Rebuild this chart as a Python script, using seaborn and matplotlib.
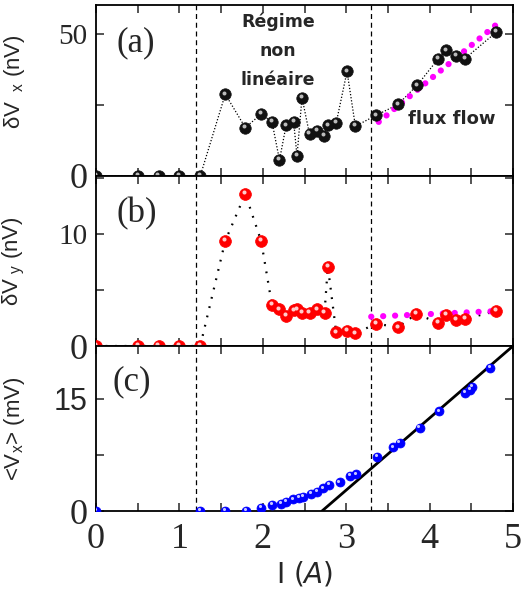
import matplotlib
matplotlib.use("Agg")
import matplotlib.pyplot as plt
from matplotlib.ticker import MultipleLocator
from matplotlib.transforms import ScaledTranslation
import numpy as np
import pandas as pd
import seaborn as sns

# ---------------- data ----------------
# panel (a): delta Vx (nV)
i_a = [0.0, 0.5, 0.75, 1.0, 1.25, 1.55, 1.79, 1.98, 2.11, 2.20, 2.28, 2.37, 2.41, 2.47,
       2.56, 2.65, 2.73, 2.78, 2.88, 3.01, 3.11, 3.36, 3.62, 3.85, 4.10, 4.20, 4.32, 4.42, 4.80]
dvx = [0, 0, 0, 0, 0, 28.7, 17.0, 21.7, 19.0, 5.6, 17.8, 19.0, 7.0, 27.5,
       14.7, 15.8, 14.1, 17.8, 18.6, 36.7, 17.5, 21.3, 25.1, 31.8, 41.0, 44.1, 42.1, 41.1, 50.5]
fit_a_x = [3.39, 4.82]
fit_a_y = [19.0, 53.6]

# panel (b): delta Vy (nV)
i_b = [0.0, 0.5, 0.75, 1.0, 1.25, 1.55, 1.79, 1.98, 2.11, 2.20, 2.28, 2.37, 2.41, 2.47,
       2.56, 2.65, 2.74, 2.78, 2.88, 3.01, 3.11, 3.36, 3.62, 3.84, 4.10, 4.20, 4.32, 4.42, 4.80]
dvy = [0, 0, 0, 0, 0, 9.4, 13.6, 9.4, 3.66, 3.27, 2.68, 3.2, 3.27, 2.98,
       2.98, 3.27, 2.98, 7.1, 1.22, 1.34, 1.13, 2.0, 1.67, 2.86, 2.1, 2.77, 2.32, 2.41, 3.13]
fit_b_x = [3.30, 4.82]
fit_b_y = [2.62, 3.13]

# panel (c): <Vx> (mV)
i_c = [0.0, 1.25, 1.55, 1.80, 1.98, 2.11, 2.22, 2.28, 2.36, 2.43, 2.48, 2.58, 2.65, 2.72,
       2.79, 2.92, 3.05, 3.12, 3.37, 3.56, 3.64, 3.88, 4.11, 4.43, 4.48, 4.51, 4.72]
vx = [0, 0, 0, 0, 0.44, 0.8, 1.0, 1.25, 1.56, 1.74, 1.92, 2.28, 2.59, 3.03,
      3.48, 3.84, 4.69, 4.9, 7.2, 8.5, 9.1, 11.1, 13.3, 15.8, 16.2, 16.6, 19.1]
fit_c_x = [2.71, 5.0]
fit_c_y = [0.0, 22.0]

regime_bounds = [1.2, 3.3]

# ---------------- style ----------------
sns.set_style("ticks")
plt.rcParams["font.family"] = ["Liberation Sans", "DejaVu Sans"]
plt.rcParams["mathtext.default"] = "regular"

fig = plt.figure(figsize=(5.21, 6.03), dpi=100)
left, width = 96 / 521, 417 / 521
ax_a = fig.add_axes([left, 1 - 176 / 603, width, 171 / 603])
ax_b = fig.add_axes([left, 1 - 346 / 603, width, 170 / 603])
ax_c = fig.add_axes([left, 1 - 511 / 603, width, 165 / 603])

SERIF = "Liberation Serif"


def boules(ax, x, y, couleur, reflet, taille):
    """Marqueurs en forme de petites sphères (disque + reflet)."""
    df = pd.DataFrame({"x": x, "y": y})
    sns.scatterplot(data=df, x="x", y="y", ax=ax, color=couleur, s=taille,
                    edgecolor=couleur, linewidth=0.5, zorder=4)
    dec = ScaledTranslation(-0.8 / 72, 1.2 / 72, fig.dpi_scale_trans)
    ax.scatter(x, y, s=taille * 0.12, color=reflet, linewidth=0,
               transform=ax.transData + dec, zorder=5)


def reglage(ax, ymax, ystep, labels_y):
    ticks = np.arange(0, ymax + 1e-6, ystep)
    ax.set_yticks(ticks)
    ax.set_yticklabels([labels_y.get(round(t, 2), "") for t in ticks])
    ax.set_xlim(0, 5)
    ax.set_ylim(0, ymax)
    ax.xaxis.set_major_locator(MultipleLocator(1))
    ax.xaxis.set_minor_locator(MultipleLocator(0.5))
    ax.tick_params(which="both", direction="in", top=True, right=True,
                   length=6, width=1.1)
    ax.tick_params(axis="y", pad=6)
    for s in ax.spines.values():
        s.set_linewidth(1.3)
        s.set_color("black")
    ax.set_xlabel("")
    for x0 in regime_bounds:
        ax.axvline(x0, color="black", lw=0.9, dashes=(4, 3), zorder=1)
    for t in ax.get_yticklabels():
        t.set_fontfamily(SERIF)
        t.set_fontsize(26 if t.get_text() == "0" else 21)


# ---------------- panel (a) ----------------
df_a = pd.DataFrame({"I": i_a, "dVx": dvx})
sns.lineplot(data=df_a, x="I", y="dVx", ax=ax_a, color="black", lw=0.9,
             linestyle=(0, (1, 1.5)), zorder=2)
sns.lineplot(x=fit_a_x, y=fit_a_y, ax=ax_a, color="#ff00ff", lw=4.5,
             linestyle=(0, (0.01, 1.6)), dash_capstyle="round", zorder=3)
boules(ax_a, i_a, dvx, "#111111", "#bbbbbb", 68)
reglage(ax_a, 60, 25, {0: "0", 50: "50"})
ax_a.set_ylabel("δV$_{\\ \\ x}$ (nV)", fontsize=16)
ax_a.text(0.05, 0.78, "(a)", transform=ax_a.transAxes, fontsize=25,
          family=SERIF, va="center", ha="left")
ax_a.text(2.18, 44, "Régime\nnon\nlinéaire", ha="center", va="center",
          fontsize=12.5, fontweight="heavy", family="DejaVu Sans", linespacing=1.8)
ax_a.text(4.26, 20.0, "flux flow", ha="center", va="center",
          fontsize=13, fontweight="heavy", family="DejaVu Sans")
ax_a.tick_params(axis="x", labelbottom=False)

# ---------------- panel (b) ----------------
df_b = pd.DataFrame({"I": i_b, "dVy": dvy})
sns.lineplot(data=df_b, x="I", y="dVy", ax=ax_b, color="black", lw=1.6,
             linestyle=(0, (0.8, 3.5)), zorder=2)
sns.lineplot(x=fit_b_x, y=fit_b_y, ax=ax_b, color="#ff00ff", lw=4.5,
             linestyle=(0, (0.01, 1.9)), dash_capstyle="round", zorder=3)
boules(ax_b, i_b, dvy, "#ff0000", "#ffcccc", 72)
reglage(ax_b, 15.2, 5, {0: "0", 10: "10"})
ax_b.set_ylabel("δV$_{\\ y}$ (nV)", fontsize=16)
ax_b.text(0.05, 0.78, "(b)", transform=ax_b.transAxes, fontsize=25,
          family=SERIF, va="center", ha="left")
ax_b.tick_params(axis="x", labelbottom=False)

# ---------------- panel (c) ----------------
sns.lineplot(x=fit_c_x, y=fit_c_y, ax=ax_c, color="black", lw=2.0, zorder=3)
boules(ax_c, i_c, vx, "#0000ff", "#c8c8ff", 42)
reglage(ax_c, 22, 7.5, {0: "0", 15: "15"})
for t in ax_c.get_yticklabels():
    if t.get_text() == "15":
        t.set_fontfamily("Liberation Sans")
        t.set_fontsize(22)
ax_c.set_ylabel("<V$_{x}$> (mV)", fontsize=16)
ax_c.text(0.04, 0.78, "(c)", transform=ax_c.transAxes, fontsize=25,
          family=SERIF, va="center", ha="left")
ax_c.tick_params(axis="x", pad=9)
for t in ax_c.get_xticklabels():
    t.set_fontfamily(SERIF)
    t.set_fontsize(26)
ax_c.set_xlabel("I ($\\it{A}$)", fontsize=20, family="DejaVu Sans", labelpad=2)

for ax in (ax_a, ax_b, ax_c):
    ax.yaxis.set_label_coords(-0.165, 0.5)
    leg = ax.get_legend()
    if leg is not None:
        leg.remove()
ax_a.yaxis.set_label_coords(-0.165, 0.55)

fig.savefig("out.png", dpi=100)
plt.close(fig)
